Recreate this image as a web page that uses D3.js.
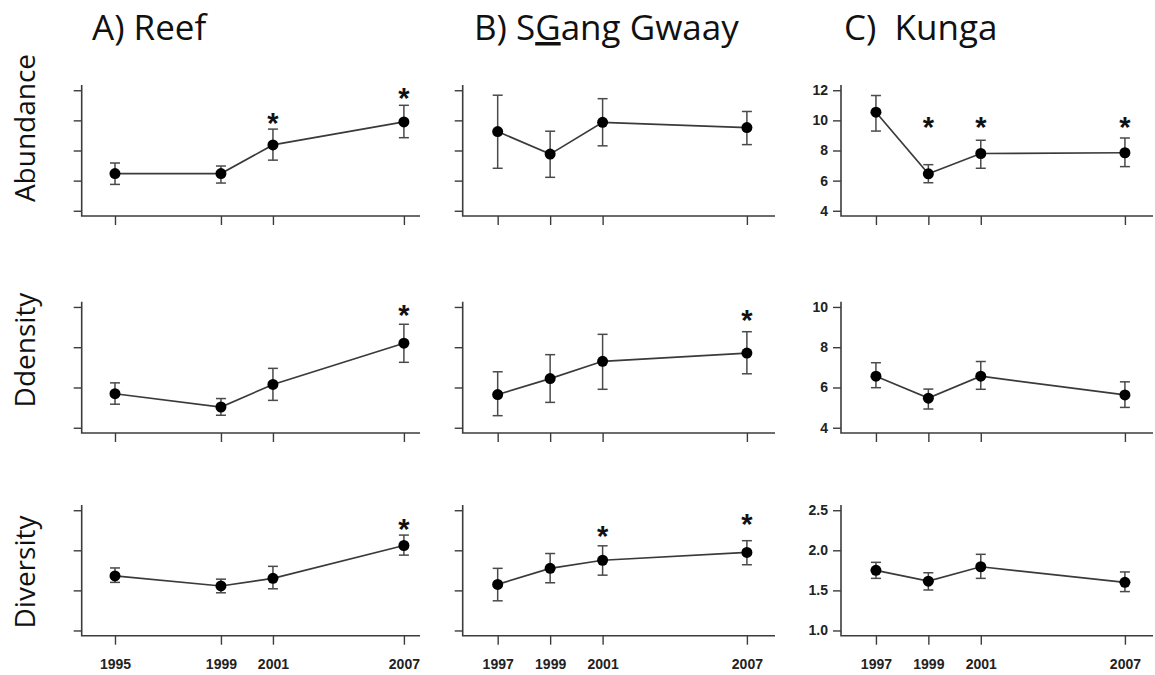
<!DOCTYPE html>
<html>
<head>
<meta charset="utf-8">
<script src="https://cdn.jsdelivr.net/npm/d3@7"></script>
<style>
  html, body { margin: 0; padding: 0; background: #fff; }
  svg { display: block; }
</style>
</head>
<body>
<svg id="chart" width="1155" height="675"></svg>
<script>
// ---------------- DATA ----------------
const yearsReef = [1995, 1999, 2001, 2007];
const yearsOther = [1997, 1999, 2001, 2007];

const siteTitles = ["A) Reef", "B) SGang Gwaay", "C)  Kunga"];
const rowLabels = ["Abundance", "Ddensity", "Diversity"];

const rowDomains = [[4, 12], [4, 10], [1, 2.5]];
const rowTicks = [[4, 6, 8, 10, 12], [4, 6, 8, 10], [1.0, 1.5, 2.0, 2.5]];

// Abundance
const reefAbundMean = [6.47, 6.47, 8.37, 9.90];
const reefAbundLo   = [5.75, 5.84, 7.36, 8.85];
const reefAbundHi   = [7.17, 6.97, 9.42, 11.0];
const reefAbundStar = [null, null, 10.2, 11.9];

const sgangAbundMean = [9.26, 7.76, 9.87, 9.52];
const sgangAbundLo   = [6.82, 6.22, 8.31, 8.39];
const sgangAbundHi   = [11.67, 9.28, 11.44, 10.59];
const sgangAbundStar = [null, null, null, null];

const kungaAbundMean = [10.54, 6.45, 7.80, 7.85];
const kungaAbundLo   = [9.29, 5.86, 6.82, 6.93];
const kungaAbundHi   = [11.65, 7.06, 8.68, 8.83];
const kungaAbundStar = [null, 9.95, 9.95, 9.95];

// Density
const reefDensMean = [5.69, 5.03, 6.15, 8.20];
const reefDensLo   = [5.17, 4.62, 5.36, 7.25];
const reefDensHi   = [6.23, 5.45, 6.95, 9.14];
const reefDensStar = [null, null, null, 9.92];

const sgangDensMean = [5.65, 6.44, 7.30, 7.71];
const sgangDensLo   = [4.60, 5.26, 5.91, 6.68];
const sgangDensHi   = [6.78, 7.63, 8.64, 8.77];
const sgangDensStar = [null, null, null, 9.64];

const kungaDensMean = [6.56, 5.47, 6.56, 5.63];
const kungaDensLo   = [5.99, 4.93, 5.91, 5.01];
const kungaDensHi   = [7.23, 5.92, 7.29, 6.28];
const kungaDensStar = [null, null, null, null];

// Diversity
const reefDivMean = [1.68, 1.555, 1.65, 2.06];
const reefDivLo   = [1.60, 1.47, 1.52, 1.94];
const reefDivHi   = [1.78, 1.64, 1.80, 2.19];
const reefDivStar = [null, null, null, 2.34];

const sgangDivMean = [1.575, 1.775, 1.876, 1.974];
const sgangDivLo   = [1.37, 1.595, 1.69, 1.82];
const sgangDivHi   = [1.775, 1.96, 2.056, 2.12];
const sgangDivStar = [null, null, 2.255, 2.40];

const kungaDivMean = [1.75, 1.615, 1.795, 1.60];
const kungaDivLo   = [1.65, 1.505, 1.65, 1.485];
const kungaDivHi   = [1.85, 1.72, 1.95, 1.73];
const kungaDivStar = [null, null, null, null];

const panelSeries = [
  [ [reefAbundMean, reefAbundLo, reefAbundHi, reefAbundStar],
    [sgangAbundMean, sgangAbundLo, sgangAbundHi, sgangAbundStar],
    [kungaAbundMean, kungaAbundLo, kungaAbundHi, kungaAbundStar] ],
  [ [reefDensMean, reefDensLo, reefDensHi, reefDensStar],
    [sgangDensMean, sgangDensLo, sgangDensHi, sgangDensStar],
    [kungaDensMean, kungaDensLo, kungaDensHi, kungaDensStar] ],
  [ [reefDivMean, reefDivLo, reefDivHi, reefDivStar],
    [sgangDivMean, sgangDivLo, sgangDivHi, sgangDivStar],
    [kungaDivMean, kungaDivLo, kungaDivHi, kungaDivStar] ]
];
const colYears = [yearsReef, yearsOther, yearsOther];

// ---------------- LAYOUT ----------------
const colLeft  = [81.7, 462.7, 841];
const colRight = [420, 775, 1153];
// tick placement fractions within each column's plot width
const colXFrac = [
  [0.0984, 0.4116, 0.5653, 0.9524],
  [0.112, 0.280, 0.448, 0.910],
  [0.112, 0.280, 0.448, 0.910]
];
const rowTop    = [85, 301.7, 505];
const rowBottom = [216, 433, 635.7];

const titleX = [92, 474, 844];
const titleBaseline = 40;
const rowLabelCenterY = [128, 350, 572];

const axisColor = "#3c3c3c";
const lineColor = "#3a3a3a";
const errColor  = "#4a4a4a";

const svg = d3.select("#chart");

// titles
siteTitles.forEach((t, i) => {
  const txt = svg.append("text")
    .attr("x", titleX[i]).attr("y", titleBaseline)
    .attr("font-family", "'Open Sans', sans-serif")
    .attr("font-size", 35)
    .attr("fill", "#111");
  if (i === 1) {
    txt.append("tspan").text("B) S");
    txt.append("tspan").style("text-decoration", "underline").text("G");
    txt.append("tspan").text("ang Gwaay");
  } else {
    txt.text(t).style("white-space", "pre");
  }
});

// row labels
rowLabels.forEach((lab, r) => {
  svg.append("text")
    .attr("transform", `translate(35,${rowLabelCenterY[r]}) rotate(-90)`)
    .attr("text-anchor", "middle")
    .attr("font-family", "'Open Sans', sans-serif")
    .attr("font-size", 28)
    .attr("fill", "#111")
    .text(lab);
});

// panels
for (let r = 0; r < 3; r++) {
  for (let c = 0; c < 3; c++) {
    const years = colYears[c];
    const [mean, lo, hi, star] = panelSeries[r][c];
    const left = colLeft[c], right = colRight[c];
    const top = rowTop[r], bottom = rowBottom[r];
    const w = right - left, h = bottom - top;

    const x = d3.scaleLinear()
      .domain(years)
      .range(colXFrac[c].map(f => left + f * w));
    const pad = 0.04 * h;
    const y = d3.scaleLinear().domain(rowDomains[r]).range([bottom - pad, top + pad]);

    const g = svg.append("g");

    // y axis
    const yAxis = d3.axisLeft(y).tickValues(rowTicks[r]).tickSize(8).tickSizeOuter(0).tickPadding(5)
      .tickFormat(c === 2 ? (r === 2 ? d3.format(".1f") : d3.format("d")) : () => "");
    const ya = g.append("g").attr("transform", `translate(${left},0)`).call(yAxis);
    ya.select(".domain").remove();
    ya.selectAll(".tick line").attr("stroke", axisColor).attr("stroke-width", 1.4);
    ya.selectAll(".tick text")
      .attr("font-family", "'Liberation Sans', Arial, sans-serif")
      .attr("font-weight", "bold").attr("font-size", 14).attr("fill", "#222");

    // x axis
    const xAxis = d3.axisBottom(x).tickValues(years).tickSize(9).tickSizeOuter(0).tickPadding(14)
      .tickFormat(r === 2 ? d3.format("d") : () => "");
    const xa = g.append("g").attr("transform", `translate(0,${bottom})`).call(xAxis);
    xa.select(".domain").remove();
    xa.selectAll(".tick line").attr("stroke", axisColor).attr("stroke-width", 1.4);
    xa.selectAll(".tick text")
      .attr("font-family", "'Liberation Sans', Arial, sans-serif")
      .attr("font-weight", "bold").attr("font-size", 14).attr("fill", "#222");

    // L-shaped box
    g.append("path")
      .attr("d", `M${left},${top}V${bottom}H${right}`)
      .attr("fill", "none").attr("stroke", axisColor).attr("stroke-width", 1.6);

    const pts = years.map((yr, i) => ({ yr, m: mean[i], lo: lo[i], hi: hi[i], s: star[i] }));

    // error bars
    const eb = g.selectAll(".eb").data(pts).enter().append("g")
      .attr("stroke", errColor).attr("stroke-width", 1.5).attr("fill", "none");
    eb.append("line").attr("x1", d => x(d.yr)).attr("x2", d => x(d.yr))
      .attr("y1", d => y(d.lo)).attr("y2", d => y(d.hi));
    eb.append("line").attr("x1", d => x(d.yr) - 5).attr("x2", d => x(d.yr) + 5)
      .attr("y1", d => y(d.lo)).attr("y2", d => y(d.lo));
    eb.append("line").attr("x1", d => x(d.yr) - 5).attr("x2", d => x(d.yr) + 5)
      .attr("y1", d => y(d.hi)).attr("y2", d => y(d.hi));

    // line
    g.append("path").datum(pts)
      .attr("d", d3.line().x(d => x(d.yr)).y(d => y(d.m)))
      .attr("fill", "none").attr("stroke", lineColor).attr("stroke-width", 1.7);

    // points
    g.selectAll(".pt").data(pts).enter().append("circle")
      .attr("cx", d => x(d.yr)).attr("cy", d => y(d.m)).attr("r", 5.5)
      .attr("fill", "#000");

    // significance stars
    g.selectAll(".star").data(pts.filter(d => d.s !== null)).enter().append("text")
      .attr("x", d => x(d.yr)).attr("y", d => y(d.s) + 16)
      .attr("text-anchor", "middle")
      .attr("font-family", "'Liberation Sans', Arial, sans-serif")
      .attr("font-weight", "bold")
      .attr("font-size", 29).attr("fill", "#111")
      .text("*");
  }
}
</script>
</body>
</html>
